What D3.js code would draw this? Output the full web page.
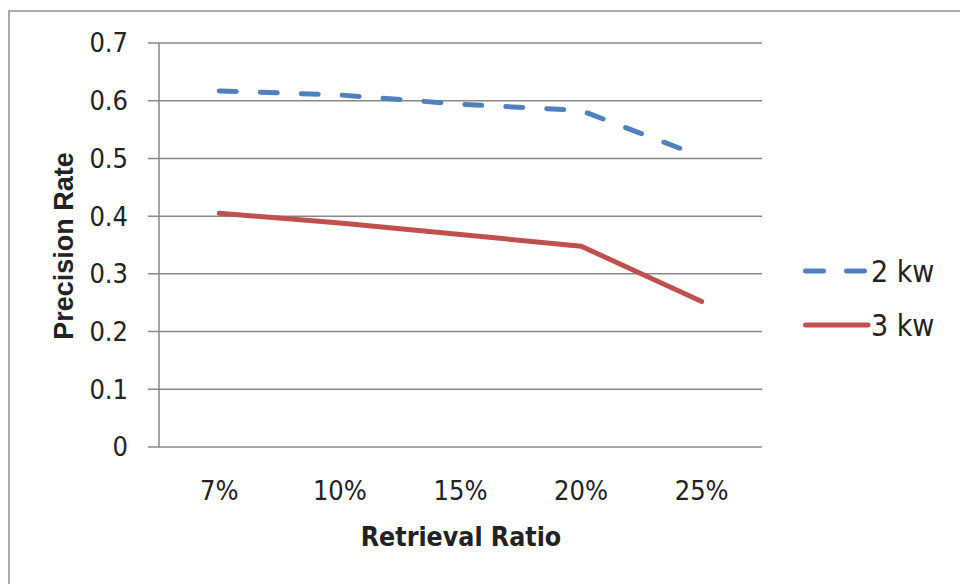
<html>
<head>
<style>
  body { margin: 0; background: #fff; }
  text { font-family: "Liberation Sans Narrow", "DejaVu Sans Condensed", "Liberation Sans", sans-serif; fill: #222; }
</style>
</head>
<body>
<svg id="chart" width="960" height="584"></svg>
<script src="https://d3js.org/d3.v7.min.js"></script>
<script>
    // data
    let ratios = ["7%", "10%", "15%", "20%", "25%"]
    let kw2 = [0.617, 0.610, 0.594, 0.583, 0.503]
    let kw3 = [0.405, 0.388, 0.368, 0.348, 0.252]
    let yTicks = [0, 0.1, 0.2, 0.3, 0.4, 0.5, 0.6, 0.7]
    let seriesNames = ["2 kw", "3 kw"]
    let colors = ["#4F81BD", "#C0504D"]

    let svg = d3.select("#chart")

    // outer chart border
    svg.append("rect")
        .attr("x", 9).attr("y", 11)
        .attr("width", 980).attr("height", 600)
        .attr("fill", "none")
        .attr("stroke", "#aaa")
        .attr("stroke-width", 2)

    let plotLeft = 159, plotRight = 762, plotTop = 43, plotBottom = 447

    let x = d3.scaleBand()
        .domain(ratios)
        .range([plotLeft, plotRight])

    let y = d3.scaleLinear()
        .domain([0, 0.7])
        .range([plotBottom, plotTop])

    // gridlines + y tick marks
    svg.append("g")
        .selectAll("line")
        .data(yTicks)
        .join("line")
        .attr("x1", plotLeft - 11)
        .attr("x2", plotRight)
        .attr("y1", d => y(d))
        .attr("y2", d => y(d))
        .attr("stroke", "#888")
        .attr("stroke-width", 1.5)

    // y axis line
    svg.append("line")
        .attr("x1", plotLeft).attr("x2", plotLeft)
        .attr("y1", plotTop).attr("y2", plotBottom)
        .attr("stroke", "#888")
        .attr("stroke-width", 1.5)

    // y tick labels
    svg.append("g")
        .selectAll("text")
        .data(yTicks)
        .join("text")
        .attr("x", 128)
        .attr("y", d => y(d))
        .attr("dy", "0.35em")
        .attr("text-anchor", "end")
        .attr("font-size", 27)
        .text(d => d === 0 ? "0" : d3.format(".1f")(d))

    // x tick labels
    svg.append("g")
        .selectAll("text")
        .data(ratios)
        .join("text")
        .attr("x", d => x(d) + x.bandwidth() / 2)
        .attr("y", 500)
        .attr("text-anchor", "middle")
        .attr("font-size", 27)
        .text(d => d)

    // axis titles
    svg.append("text")
        .attr("x", 461).attr("y", 546)
        .attr("text-anchor", "middle")
        .attr("font-size", 26.5)
        .attr("font-weight", "bold")
        .text("Retrieval Ratio")

    svg.append("text")
        .attr("transform", "translate(73,246) rotate(-90)")
        .attr("text-anchor", "middle")
        .attr("font-size", 27)
        .attr("font-weight", "bold")
        .style("font-family", "'Liberation Sans', sans-serif")
        .text("Precision Rate")

    let line = d3.line()
        .x((d, i) => x(ratios[i]) + x.bandwidth() / 2)
        .y(d => y(d))

    let series = [kw2, kw3]
    svg.append("g")
        .selectAll("path")
        .data(series)
        .join("path")
        .attr("d", d => line(d))
        .attr("fill", "none")
        .attr("stroke", (d, i) => colors[i])
        .attr("stroke-width", 5)
        .attr("stroke-linecap", "round")
        .attr("stroke-dasharray", (d, i) => i === 0 ? "17 24" : null)

    // legend
    let legend = svg.append("g")
        .selectAll("g")
        .data(seriesNames)
        .join("g")
        .attr("transform", (d, i) => `translate(805,${271 + i * 54})`)

    legend.append("line")
        .attr("x1", 0.5).attr("x2", 63)
        .attr("stroke", (d, i) => colors[i])
        .attr("stroke-width", 5)
        .attr("stroke-linecap", "round")
        .attr("stroke-dasharray", (d, i) => i === 0 ? "18 23" : null)

    legend.append("text")
        .attr("x", 66)
        .attr("dy", "0.35em")
        .attr("font-size", 30)
        .text(d => d)
</script>
</body>
</html>
